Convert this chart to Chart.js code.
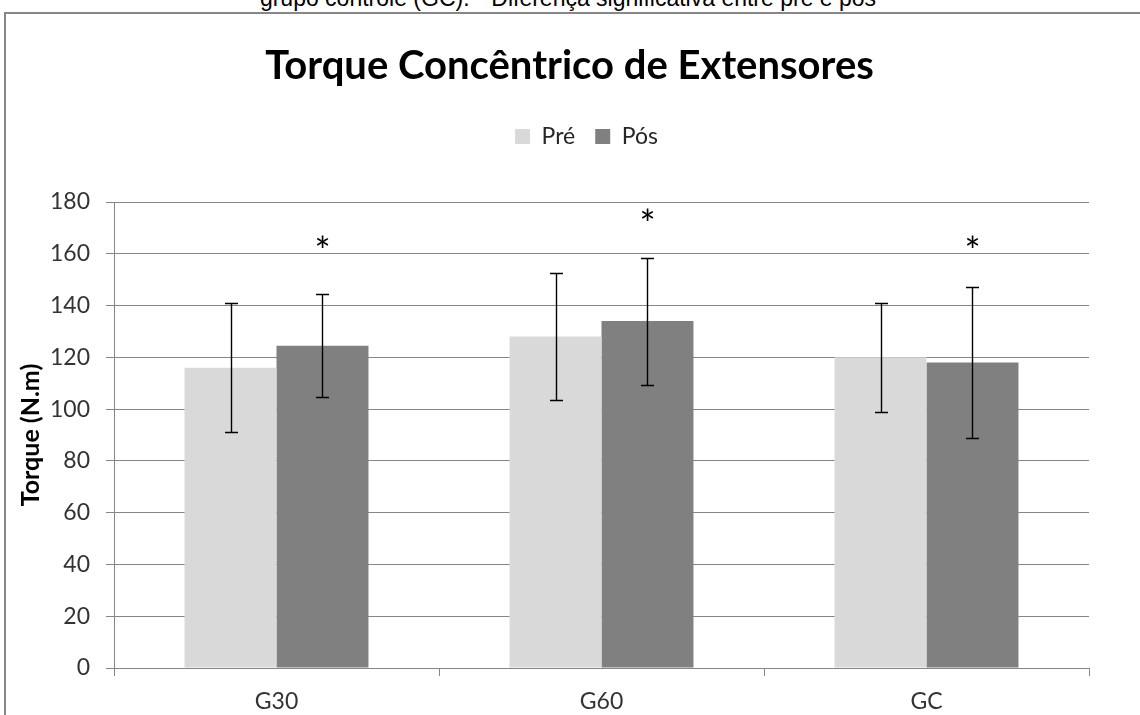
<!DOCTYPE html>
<html>
<head>
<meta charset="utf-8">
<script src="https://cdn.jsdelivr.net/npm/chart.js@4/dist/chart.umd.min.js"></script>
<style>
  html, body { margin: 0; padding: 0; background: #fff; overflow: hidden; }
  #wrap { position: relative; width: 1140px; height: 715px; }
  #caption {
    position: absolute; left: 0; top: -15px; width: 1136px; text-align: center;
    font-family: "Liberation Sans", Arial, sans-serif; font-size: 23px; color: #000;
    white-space: nowrap;
  }
  #frame {
    position: absolute; left: 4px; top: 12px; width: 1150px; height: 720px;
    border: 2px solid #878787; box-sizing: border-box;
  }
  canvas { position: absolute; left: 0; top: 0; }
</style>
</head>
<body>
<div id="wrap">
  <div id="caption">grupo controle (GC). * Diferença significativa entre pré e pós</div>
  <div id="frame"></div>
  <canvas id="chart" width="1140" height="715"></canvas>
</div>
<script>
const groups = ['G30', 'G60', 'GC']
const preValues = [116, 128, 120]
const posValues = [124.5, 134, 118]
const preErrors = [25, 24.5, 21]
const posErrors = [20, 24.5, 29]
const starLevels = [163.5, 174, 163.5]
const yTicks = [0, 20, 40, 60, 80, 100, 120, 140, 160, 180]

const font = 'Lato'

const errorBars = {
  id: 'errorBars',
  afterDatasetsDraw(chart) {
    const { ctx, scales: { y } } = chart
    const errors = [preErrors, posErrors]
    ctx.save()
    ctx.strokeStyle = '#000'
    ctx.lineWidth = 1.4
    chart.data.datasets.forEach((ds, i) => {
      chart.getDatasetMeta(i).data.forEach((bar, j) => {
        const top = Math.round(y.getPixelForValue(ds.data[j] + errors[i][j])) + 0.5
        const bottom = Math.round(y.getPixelForValue(ds.data[j] - errors[i][j])) + 0.5
        const x = Math.round(bar.x) + 0.5
        ctx.beginPath()
        ctx.moveTo(x, top); ctx.lineTo(x, bottom)
        ctx.moveTo(x - 6.5, top); ctx.lineTo(x + 6.5, top)
        ctx.moveTo(x - 6.5, bottom); ctx.lineTo(x + 6.5, bottom)
        ctx.stroke()
      })
    })
    // asterisks over the Pós bars
    ctx.fillStyle = '#000'
    ctx.font = '38px ' + font
    ctx.textAlign = 'center'
    ctx.textBaseline = 'middle'
    chart.getDatasetMeta(1).data.forEach((bar, j) => {
      ctx.fillText('*', bar.x, y.getPixelForValue(starLevels[j]) + 8)
    })
    ctx.restore()
  }
}

// title and legend sit a bit right of the plot centre in the original
const nudgeBoxes = {
  id: 'nudgeBoxes',
  afterLayout(chart) {
    chart.titleBlock.left += 17
    chart.titleBlock.right += 17
    chart.legend.left += 34
    chart.legend.right += 34
  }
}

const data = {
  labels: groups,
  datasets: [
    { label: 'Pré', data: preValues, backgroundColor: '#d9d9d9' },
    { label: 'Pós', data: posValues, backgroundColor: '#808080' }
  ]
}

const options = {
  responsive: false,
  animation: false,
  layout: { padding: { left: 16, right: 51, top: 0, bottom: 0 } },
  datasets: { bar: { categoryPercentage: 0.566, barPercentage: 1 } },
  plugins: {
    title: {
      display: true,
      text: 'Torque Concêntrico de Extensores',
      color: '#000',
      font: { family: font, size: 40, weight: 'bold' },
      padding: { top: 42, bottom: 15 }
    },
    // empty spacer between legend and plot
    subtitle: {
      display: true,
      text: ' ',
      weight: 500,
      font: { size: 10 },
      padding: { top: 0, bottom: 32 }
    },
    legend: {
      labels: {
        color: '#262626',
        font: { family: font, size: 23 },
        boxWidth: 15,
        boxHeight: 15,
        padding: 20
      }
    },
    tooltip: { enabled: false }
  },
  scales: {
    x: {
      grid: { drawOnChartArea: false, offset: true, tickLength: 8, color: '#868686' },
      border: { color: '#868686' },
      ticks: { color: '#333', font: { family: font, size: 23 }, padding: 12 },
      afterFit: scale => { scale.height = 47 }
    },
    y: {
      min: 0,
      max: 180,
      afterBuildTicks: scale => { scale.ticks = yTicks.map(value => ({ value })) },
      grid: { color: '#868686', tickLength: 8 },
      border: { color: '#868686' },
      ticks: { color: '#333', font: { family: font, size: 23 }, padding: 16 },
      title: {
        display: true,
        text: 'Torque (N.m)',
        color: '#000',
        font: { family: font, size: 25, weight: 'bold' },
        padding: 0
      },
      afterFit: scale => { scale.width = 98 }
    }
  }
}

new Chart('chart', { type: 'bar', data, options, plugins: [errorBars, nudgeBoxes] })
</script>
</body>
</html>
